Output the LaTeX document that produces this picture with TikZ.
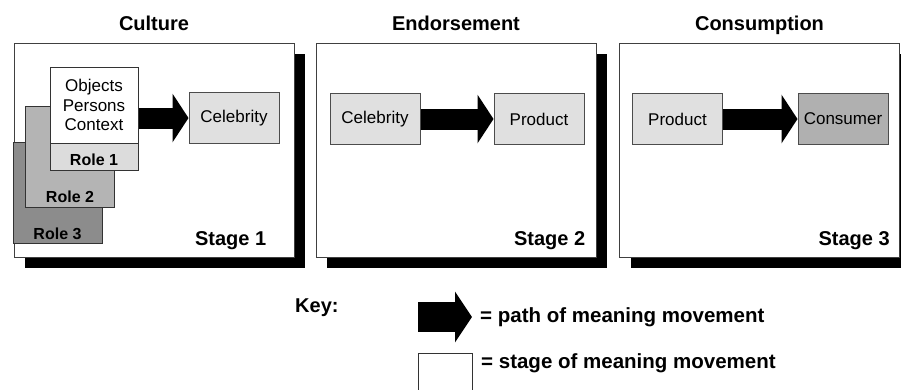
\documentclass[tikz,border=0pt]{standalone}
\usepackage{fontspec}
\setmainfont{Liberation Sans}
\usetikzlibrary{arrows.meta,positioning,shadows}
\definecolor{roleone}{HTML}{DCDCDC}
\definecolor{roletwo}{HTML}{B4B4B4}
\definecolor{rolethree}{HTML}{8C8C8C}
\definecolor{entity}{HTML}{E0E0E0}
\definecolor{consumer}{HTML}{B0B0B0}

\begin{document}
\begin{tikzpicture}[x=1pt,y=-1pt,
    stagebox/.style={draw=black!75,line width=0.8pt,fill=white,minimum width=280pt,minimum height=214pt,
      drop shadow={shadow xshift=11pt,shadow yshift=-11pt,fill=black,opacity=1}},
    title/.style={font=\bfseries\fontsize{20}{24}\selectfont,inner sep=0pt},
    itembox/.style={draw=black!70,line width=1pt,fill=entity,minimum width=90pt,minimum height=51pt,
      inner sep=0pt,font=\fontsize{17}{20}\selectfont},
    rolebox/.style={draw=black!80,line width=1pt,minimum width=89pt,minimum height=101pt},
    rolelabel/.style={font=\bfseries\fontsize{16}{19}\selectfont,inner sep=0pt},
    keytext/.style={font=\bfseries\fontsize{20.5}{24}\selectfont,inner sep=0pt},
    flow/.style={line width=21pt,-{Triangle[length=16pt,width=48pt]}}]
  \useasboundingbox (0,0) rectangle (901,389);

  \node[stagebox] (s1) at (154,150) {};
  \node[title, above=12pt of s1, anchor=base] {Culture};
  \node[title, above left=12pt and 28pt of s1.south east, anchor=base east] {Stage 1};
  \node[rolebox, fill=rolethree] (role3) at (57.5,193) {};
  \node[rolelabel, above=5pt of role3.south, anchor=base] {Role 3};
  \node[rolebox, fill=roletwo] (role2) at (70,157) {};
  \node[rolelabel, above=6pt of role2.south, anchor=base] {Role 2};
  \node[rolebox, fill=roleone, minimum width=88pt, minimum height=103pt] (role1) at (94,118.5) {};
  \node[rolelabel, above=5pt of role1.south, anchor=base] {Role 1};
  \node[draw=black!80, line width=1pt, fill=white, minimum width=88pt, minimum height=76pt,
    inner sep=0pt, anchor=north, align=center, font=\fontsize{17}{19.5}\selectfont]
    (objects) at (role1.north) {Objects\\Persons\\Context};
  \node[itembox] (celeb1) at (234,118) {Celebrity};
  \draw[flow] (objects.east |- celeb1.west) -- (celeb1.west);

  \node[stagebox] (s2) at (456,150) {};
  \node[title, above=12pt of s2, anchor=base] {Endorsement};
  \node[title, above left=12pt and 11pt of s2.south east, anchor=base east] {Stage 2};
  \node[itembox] (celeb2) at (375,119) {Celebrity};
  \node[itembox] (product2) at (539,119) {Product};
  \draw[flow] (celeb2) -- (product2);

  \node[stagebox] (s3) at (759.5,150) {};
  \node[title, above=12pt of s3, anchor=base] {Consumption};
  \node[title, above left=12pt and 10pt of s3.south east, anchor=base east] {Stage 3};
  \node[itembox] (product3) at (677.5,119) {Product};
  \node[itembox, fill=consumer] (consumer) at (843,119) {Consumer};
  \draw[flow] (product3) -- (consumer);

  \node[title, anchor=base west] (key) at (295,312) {Key:};
  \coordinate (keytail) at (418,317);
  \coordinate (keytip) at (472,317);
  \draw[line width=30pt,-{Triangle[length=17pt,width=50pt]}] (keytail) -- (keytip);
  \node[keytext, right=8pt of keytip, anchor=west] {= path of meaning movement};
  \node[draw=black!80, line width=1pt, minimum width=54pt, minimum height=45pt, anchor=north west]
    (keybox) at (418,353) {};
  \node[keytext, anchor=west] at ([xshift=8pt,yshift=-10pt]keybox.north east) {= stage of meaning movement};
\end{tikzpicture}
\end{document}
